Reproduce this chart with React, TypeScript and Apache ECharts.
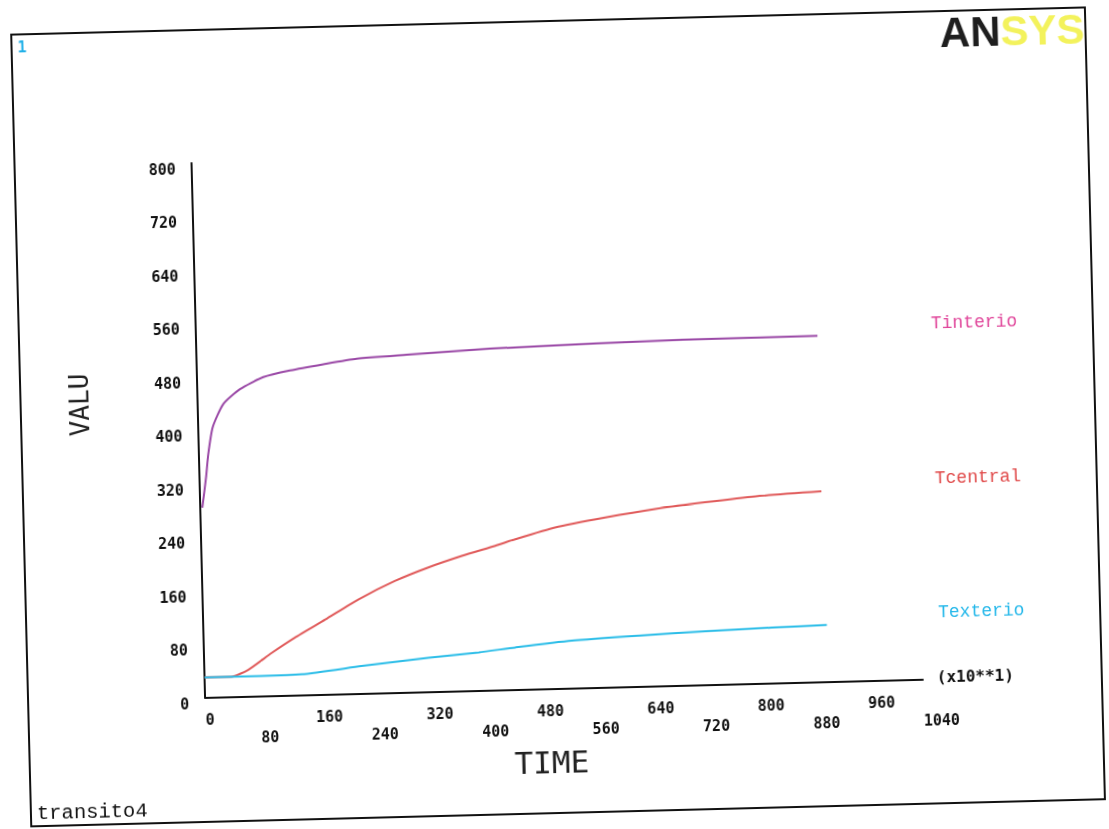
import React, { useEffect, useRef } from "react";
import * as echarts from "echarts";

// TIME values are in units of 10 s (axis multiplier x10**1)
const tinterioTime = [3, 9.5, 13.6, 21, 37, 62, 96, 135, 183.5, 232, 304.6, 425.6, 580, 706, 900];
const tinterioTemp = [284, 329, 364, 404, 438, 460, 477, 486, 494, 501, 505, 511, 515, 517, 518];

const tcentralTime = [0, 39, 64, 98, 132, 177, 226, 279, 328, 377, 426, 455, 513, 586, 659, 731, 804, 900];
const tcentralTemp = [30, 30, 40, 64, 86, 112, 141, 167, 186, 202, 216, 225, 241, 254, 265, 273, 280, 285];

const texterioTime = [0, 39, 141, 228, 325, 398, 451, 533, 630, 727, 823, 903];
const texterioTemp = [30, 30, 31, 41, 51, 57, 63, 71, 76, 80, 83, 85];

const seriesNames = ["Tinterio", "Tcentral", "Texterio"];
const lineColors = ["#9a48a6", "#e05a5a", "#2bbde8"];
const labelColors = ["#e0459a", "#e04848", "#25b8ea"];

const xMin = 0;
const xMax = 1040;
const xStep = 80;
const yMin = 0;
const yMax = 800;
const yStep = 80;

const pairs = (xs: number[], ys: number[]) => xs.map((x, i) => [x, ys[i]]);

export default function App() {
  const ref = useRef<HTMLDivElement>(null);

  useEffect(() => {
    if (!ref.current) return;
    const chart = echarts.init(ref.current, null, { renderer: "svg" });

    const grid = { left: 198, top: 154, width: 718, height: 534.5 };
    const tickFont = {
      fontFamily: "DejaVu Sans Mono",
      fontWeight: "bold" as const,
      fontSize: 15,
      color: "#111",
    };

    const baseX = {
      type: "value" as const,
      min: xMin,
      max: xMax,
      interval: xStep,
      splitLine: { show: false },
      axisTick: { show: false },
    };

    const datasets = [
      pairs(tinterioTime, tinterioTemp),
      pairs(tcentralTime, tcentralTemp),
      pairs(texterioTime, texterioTemp),
    ];

    const labelY = [333, 488, 622];

    chart.setOption({
      animation: false,
      backgroundColor: "#ffffff",
      grid,
      xAxis: [
        {
          ...baseX,
          position: "bottom",
          axisLine: { show: true, onZero: false, lineStyle: { color: "#111", width: 2 } },
          axisLabel: {
            ...tickFont,
            align: "left",
            margin: 15,
            showMaxLabel: true,
            formatter: (v: number) => (v % (2 * xStep) === 0 ? String(v) : ""),
          },
        },
        {
          ...baseX,
          position: "bottom",
          axisLine: { show: false },
          axisLabel: {
            ...tickFont,
            align: "left",
            margin: 34,
            showMaxLabel: true,
            formatter: (v: number) => (v % (2 * xStep) === xStep ? String(v) : ""),
          },
        },
      ],
      yAxis: {
        type: "value",
        min: yMin,
        max: yMax,
        interval: yStep,
        splitLine: { show: false },
        axisTick: { show: false },
        axisLine: { show: true, onZero: false, lineStyle: { color: "#111", width: 2 } },
        axisLabel: {
          ...tickFont,
          align: "right",
          verticalAlign: "top",
          lineHeight: 12,
          margin: 16,
        },
      },
      series: seriesNames.map((name, i) => ({
        name,
        type: "line",
        xAxisIndex: 0,
        data: datasets[i],
        showSymbol: false,
        symbol: "none",
        smooth: 0.2,
        lineStyle: { color: lineColors[i], width: 2 },
      })),
      graphic: [
        {
          type: "rect",
          shape: { x: 21, y: 21, width: 1074, height: 792 },
          style: { fill: "none", stroke: "#111", lineWidth: 2 },
          silent: true,
        },
        {
          type: "text",
          x: 27,
          y: 34,
          style: {
            text: "1",
            fill: "#20b0e8",
            fontFamily: "DejaVu Sans Mono",
            fontWeight: "bold",
            fontSize: 15,
            align: "left",
            verticalAlign: "middle",
          },
        },
        {
          type: "text",
          x: 1094,
          y: 42,
          style: {
            text: "{a|AN}{b|SYS}",
            align: "right",
            verticalAlign: "middle",
            rich: {
              a: { fill: "#1e1e1e", fontFamily: "Liberation Sans", fontWeight: 900, fontSize: 42 },
              b: { fill: "#f3f25c", fontFamily: "Liberation Sans", fontWeight: 900, fontSize: 42 },
            },
          },
        },
        {
          type: "text",
          x: 27,
          y: 800,
          style: {
            text: "transito4",
            fill: "#111",
            fontFamily: "Liberation Mono",
            fontSize: 20.5,
            align: "left",
            verticalAlign: "middle",
          },
        },
        ...seriesNames.map((name, i) => ({
          type: "text",
          x: 933,
          y: labelY[i],
          style: {
            text: name,
            fill: labelColors[i],
            fontFamily: "Liberation Mono",
            fontSize: 18,
            align: "left",
            verticalAlign: "middle",
          },
        })),
        {
          type: "text",
          x: 930,
          y: 686,
          style: {
            text: "(x10**1)",
            fill: "#111",
            fontFamily: "DejaVu Sans Mono",
            fontWeight: "bold",
            fontSize: 16,
            align: "left",
            verticalAlign: "middle",
          },
        },
        {
          type: "text",
          x: 80,
          y: 393,
          rotation: Math.PI / 2,
          style: {
            text: "VALU",
            fill: "#222",
            fontFamily: "DejaVu Sans Mono",
            fontSize: 26,
            align: "center",
            verticalAlign: "middle",
          },
        },
        {
          type: "text",
          x: 543,
          y: 762,
          style: {
            text: "TIME",
            fill: "#222",
            fontFamily: "DejaVu Sans Mono",
            fontSize: 31,
            align: "center",
            verticalAlign: "middle",
          },
        },
      ],
    });

    return () => chart.dispose();
  }, []);

  return (
    <div
      ref={ref}
      style={{
        position: "fixed",
        left: 0,
        top: 0,
        width: 1109,
        height: 829,
        background: "#ffffff",
        transform: "rotate(-1.45deg)",
        transformOrigin: "554.5px 414.5px",
      }}
    />
  );
}
